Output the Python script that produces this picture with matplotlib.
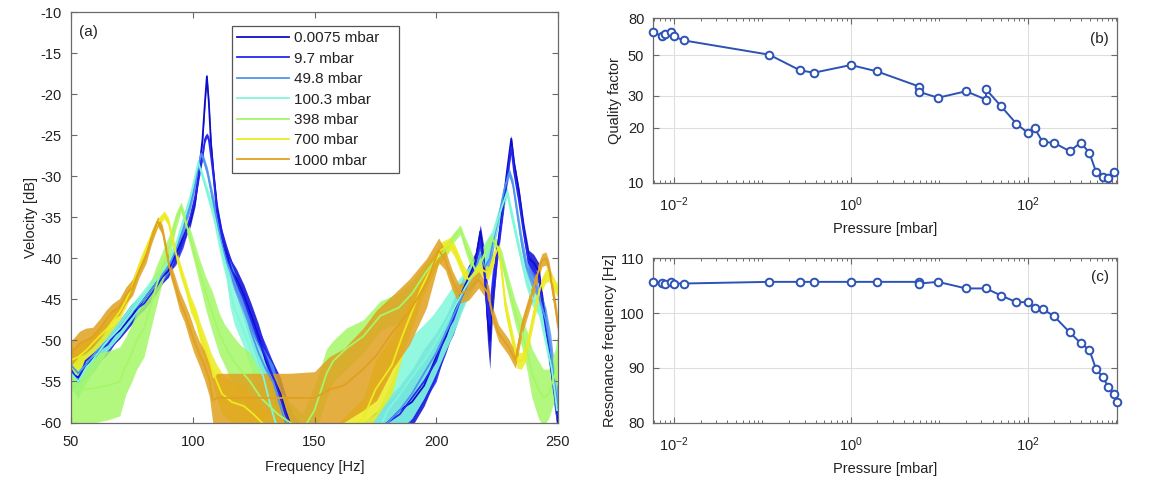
import numpy as np
import matplotlib
matplotlib.use("Agg")
import matplotlib.pyplot as plt
from matplotlib.ticker import FixedLocator, FixedFormatter, LogLocator, NullLocator, NullFormatter, LogFormatterMathtext

plt.rcParams['font.family'] = ['Liberation Sans', 'DejaVu Sans']
plt.rcParams['mathtext.fontset'] = 'custom'
plt.rcParams['mathtext.rm'] = 'Liberation Sans'
plt.rcParams['mathtext.default'] = 'regular'
plt.rcParams['axes.unicode_minus'] = False

# ---------------- panel (a): spectra ----------------
labels_a = ['0.0075 mbar', '9.7 mbar', '49.8 mbar', '100.3 mbar', '398 mbar', '700 mbar', '1000 mbar']
colors_a = ['#0d0dc9', '#2626ee', '#4f95ef', '#7ff7da', '#a6f768', '#ecec1e', '#e0a020']

freq_blue = [50, 53, 56, 60, 65, 70, 75, 80, 85, 90, 93, 96, 99, 101, 102.5, 104, 105, 105.8, 106.6, 107.5,
             108.5, 110, 112, 114, 116, 118, 121, 124, 127, 130, 133, 136, 138, 141, 150, 170, 180, 185, 190, 195,
             200, 204, 207, 210, 213, 216, 218.1, 219.5, 221, 222, 223, 225, 227, 229, 230.8, 232, 234, 236, 238, 240,
             242, 243.5, 245.5, 247, 248.5, 250]
vel_0075 = [-54, -54.5, -53, -52, -50, -48.8, -47, -45, -43, -41.5, -39.5, -37.5, -35.5, -33, -29.5, -25.5, -21, -17.8, -21, -26,
            -29.5, -34, -37.5, -39.5, -41.5, -42.5, -44.5, -47, -49.5, -52.5, -54.5, -56.5, -58.5, -61, -64, -63, -60, -58.5, -57.5, -55.5,
            -52, -49.5, -47, -44.5, -42.5, -40.5, -36.7, -40, -47, -50, -45, -39, -34.5, -29.5, -25.4, -28.5, -32, -36.5, -40, -40.5,
            -41.5, -45, -49, -53, -56, -60]
vel_97 = [-53.5, -55, -52.5, -51.5, -50.5, -48.5, -46.5, -45.5, -43.5, -41, -40, -38, -35, -32.5, -30, -27.5, -25.5, -25, -25.5, -27.5,
          -30, -34.5, -37.5, -40, -41.5, -43, -45, -47.5, -50, -52, -54.5, -57, -59, -61, -64, -62, -60, -59, -57, -55,
          -52.5, -49, -47.5, -45, -43, -41, -38, -41, -46, -48, -44, -39.5, -35, -30.5, -26.5, -29.5, -33, -37, -40.5, -41.5,
          -42, -45.5, -49.5, -53, -56.5, -59]
spread_blue = [2, 2, 1.8, 1.5, 1.2, 1, 1, 0.8, 0.8, 0.8, 0.8, 0.7, 0.6, 0.6, 0.5, 0.5, 0.4, 0.3, 0.4, 0.5,
               0.6, 0.8, 1, 1, 1.2, 1.2, 1.3, 1.5, 1.5, 1.5, 1.8, 2, 2, 2, 2, 2, 2.5, 2.5, 3, 2.5,
               2.5, 2, 1.8, 1.5, 1.5, 1.2, 0.8, 1.5, 3, 3.5, 2.5, 1.2, 0.8, 0.6, 0.4, 0.5, 0.6, 0.8, 1, 1,
               1, 1, 1.2, 1.5, 1.8, 2]

freq_498 = [50, 53, 56, 60, 65, 70, 75, 80, 85, 90, 93, 96, 99, 101, 102.5, 103.5, 104.5, 106, 108, 110,
            112, 114, 116, 118, 121, 124, 127, 130, 133, 135, 137, 140, 150, 170, 180, 185, 190, 195, 200, 204,
            207, 210, 213, 216, 218, 220, 222, 224, 226, 228, 230, 231.5, 233, 235, 237, 239.3, 241, 243, 245, 247,
            248.5, 250]
vel_498 = [-53, -54, -53, -51.5, -50, -48.5, -46.5, -45, -43, -41, -39, -36.5, -33.5, -31, -28.5, -27.2, -28, -29.5, -32.5, -35.5,
           -38.5, -40.5, -42, -43.5, -46, -49, -51.5, -53.5, -55, -57, -59, -61.5, -64, -63, -60, -58.5, -56.5, -54, -51.5, -49,
           -47, -45, -43, -41.5, -39.5, -41, -40, -37, -34.5, -31.5, -29.5, -31, -34, -38, -41, -42.6, -43.5, -45.5, -47.5, -51,
           -55, -58]
spread_498 = [2, 2, 1.8, 1.5, 1.2, 1, 1, 0.8, 0.8, 0.8, 0.8, 0.7, 0.6, 0.5, 0.5, 0.4, 0.5, 0.6, 0.8, 1,
              1, 1, 1.2, 1.2, 1.5, 1.5, 1.5, 2, 2, 2, 2, 2, 2, 2, 3, 3, 3, 3, 2.5, 2,
              2, 1.5, 1.5, 1.2, 1.2, 1.5, 1.5, 1, 0.8, 0.6, 0.5, 0.6, 0.8, 1, 1, 1, 1, 1.2, 1.5, 1.8,
              2, 2]

freq_1003 = [50, 53, 56, 60, 65, 70, 75, 80, 85, 90, 93, 96, 99, 101, 102.3, 103.5, 105, 107, 108.2, 110,
             112, 113.7, 115.3, 117, 120.8, 125, 129, 131.7, 134, 140, 160, 175, 180, 184, 190, 195, 198.3, 202, 206.5, 212,
             217.4, 220, 222.9, 225, 227, 229.1, 231.1, 233.8, 236.6, 239.3, 242, 244.8, 247.5, 249.6]
vel_1003 = [-54, -55, -53.5, -52, -50, -48.5, -46.5, -44.5, -42.5, -40.5, -38.5, -35.5, -32.5, -30, -28.3, -29.5, -31, -33, -34.1, -36.5,
            -39, -41, -43.9, -46, -48.7, -52, -54.4, -57.7, -60, -63, -64, -62, -58.5, -57, -54.5, -52.5, -51, -49, -46.5, -43.5,
            -41, -39.5, -37.8, -35.5, -33.7, -31.9, -34.9, -38.6, -42.2, -44.7, -45.9, -49.6, -53.6, -58.5]
spread_1003 = [2, 2, 1.8, 1.5, 1.2, 1, 1, 0.8, 0.8, 0.8, 0.7, 0.6, 0.6, 0.5, 0.4, 0.5, 0.6, 0.8, 1, 1.2,
               1.5, 1.5, 2, 2, 2, 2.5, 2.5, 2.5, 2.5, 2.5, 2.5, 3, 2.5, 4, 5, 4.5, 4, 3.5, 3, 2,
               1.5, 1.5, 1.2, 1, 0.8, 0.6, 0.8, 0.8, 1, 1, 1, 1.2, 1.5, 2]

freq_398 = [50, 55, 60, 65, 70, 72.6, 75, 77, 80, 82, 84.9, 87, 90.4, 93, 95.2, 97, 100, 102.7, 105.4, 108,
            110.9, 113, 116.4, 119.4, 123.5, 128, 135, 145, 150, 155, 157.7, 163, 170, 177, 184.6, 190, 195.5, 199.6, 202, 205.1,
            207, 209.9, 211.5, 213.3, 216, 218.8, 221, 222.9, 225, 227, 229.7, 232.5, 235.2, 237.5, 239.3, 242, 244, 246.2, 248.9, 250]
vel_398 = [-56, -56, -55.8, -55.5, -55, -53, -51.5, -50, -48.5, -46.5, -43.5, -41.5, -38.6, -35.5, -33.7, -35.5, -38.6, -41.5, -44.3, -46.5,
           -49.2, -50.5, -52.4, -53.5, -55, -57, -59, -61, -58.5, -54, -52.5, -51, -49.5, -47, -46, -44.3, -41.8, -40.2, -39.5, -38.5,
           -37.5, -36.5, -38, -39.4, -41.4, -40.2, -38.5, -37.6, -38.5, -40.2, -43.5, -46.7, -49.1, -51.5, -54, -56, -57, -56.5, -54, -51.5]
spread_398 = [4.2, 4.2, 4.2, 4.2, 4.2, 3.5, 3.5, 3.5, 3.5, 3, 2.5, 2, 1.5, 1, 0.6, 0.8, 1.2, 1.5, 2, 2.5,
              2.5, 2.5, 3, 3, 3.5, 3.5, 3, 2, 3, 3, 2.5, 2.5, 2, 1.8, 1.8, 1.5, 1.2, 1, 1, 0.8,
              0.6, 0.6, 0.8, 1, 1, 1, 0.8, 0.6, 0.8, 1, 1.2, 1.5, 1.8, 2.5, 3, 3.5, 3.5, 3, 3, 2.5]

freq_700 = [50, 53, 56.2, 60, 65, 70, 72.6, 75, 78, 81, 83.5, 86, 88.3, 90, 91.5, 93.1, 95, 97.2, 99, 101.3,
            103, 105.4, 107.5, 109.6, 112, 116, 121, 125, 135, 150, 160, 170, 175, 181.8, 186, 190, 194, 198.3, 202, 205.8,
            207.5, 209.2, 211, 213.3, 215, 217.4, 219.5, 221.5, 223.5, 225.6, 227, 228.4, 231.1, 233.2, 235, 236.6, 238.5, 240.7, 242.8, 244.8,
            246.5, 248.9, 250]
vel_700 = [-52.4, -52, -51.2, -50, -48.5, -46.5, -45.1, -43.5, -41, -38.8, -37, -35.5, -34.7, -35.5, -37.5, -39.4, -41.5, -43.5, -45.5, -47.1,
           -49, -51.2, -53, -54.8, -56.5, -57.5, -58, -59, -62, -63, -62, -59.5, -56, -53, -49.5, -46.5, -43.5, -41, -39, -38.2,
           -39, -40.2, -41.5, -42.6, -42, -41, -41.5, -41.8, -40, -38.6, -42, -45.9, -49.6, -52.4, -52.5, -51.6, -49, -45.9, -43.5, -42.2,
           -42, -43.5, -43.9]
spread_700 = [1.5, 1.5, 1.2, 1.2, 1, 1, 0.8, 0.8, 0.8, 0.7, 0.6, 0.5, 0.5, 0.5, 0.6, 0.7, 0.8, 0.8, 1, 1,
              1.2, 1.5, 1.5, 2, 2.5, 2.5, 2.5, 2, 2, 2, 2, 2.5, 3.5, 3.5, 2.5, 2, 1.5, 1.2, 1, 0.8,
              0.8, 0.8, 0.8, 0.8, 0.8, 0.8, 0.8, 0.8, 0.8, 0.8, 0.8, 1, 1, 1, 1, 1, 1, 1, 0.8, 0.8,
              0.8, 0.8, 0.8]

freq_1000 = [50, 53.4, 56, 58.9, 62, 64.4, 67, 69.9, 72.5, 75.3, 78, 80.8, 83, 85.6, 87.5, 90.4, 92.5, 94.5, 96.5, 98.6,
             100.5, 102.7, 104.8, 106.8, 108.2, 110, 120, 130, 140, 150, 156, 162, 170, 175.5, 182, 189, 196, 201, 203.7, 206.5,
             209.2, 213.3, 217.4, 219.5, 221.5, 222.9, 225.6, 229.7, 232.5, 235.2, 239.3, 241.5, 243.4, 245, 246.2, 248.9, 250]
vel_1000 = [-51.6, -50.4, -50, -49.6, -48.5, -47.5, -46.5, -45.9, -44.5, -43.5, -41.5, -39.8, -37.5, -35.5, -36.5, -41, -43, -45.1, -46.5, -48.3,
            -50, -51.6, -53, -54.8, -57.3, -57, -57, -57, -57, -57, -56, -55.5, -53.5, -51.8, -49, -46.5, -43, -39, -40.2, -42.6,
            -44.3, -43.9, -42.6, -43.5, -44.3, -46.7, -49.1, -50.8, -52.4, -48.3, -44.3, -42, -40.2, -40, -41, -45.9, -48.3]
spread_1000 = [1.5, 1.5, 1.5, 1.2, 1.2, 1.2, 1, 1, 1, 1, 0.8, 0.8, 0.8, 0.6, 0.6, 0.8, 1, 1.2, 1.2, 1.5,
               1.5, 1.5, 1.8, 2, 2.7, 3, 3, 3, 3, 3.2, 4, 4.5, 5, 5.5, 4.5, 4, 3, 1.5, 1.2, 1.2,
               1.2, 1.2, 1, 1, 1, 1, 1, 1, 1, 1, 1, 1, 0.8, 0.8, 0.8, 1, 1]

spectra = [
    (freq_blue, vel_0075, spread_blue),
    (freq_blue, vel_97, spread_blue),
    (freq_498, vel_498, spread_498),
    (freq_1003, vel_1003, spread_1003),
    (freq_398, vel_398, spread_398),
    (freq_700, vel_700, spread_700),
    (freq_1000, vel_1000, spread_1000),
]

# ---------------- panel (b): quality factor ----------------
pressure_b = [0.00584, 0.00726, 0.0079, 0.00925, 0.0099, 0.01285, 0.1194, 0.267, 0.382, 1.0,
              1.97, 5.97, 5.97, 9.7, 20.1, 33.8, 33.8, 50, 74.5, 100,
              120, 148, 197, 298, 398, 498, 592, 710, 809, 937]
quality_b = [67.0, 63.9, 65.9, 67.3, 63.7, 60.5, 50.5, 41.4, 40.2, 44.3,
             40.9, 33.7, 31.5, 29.3, 31.8, 28.6, 32.6, 26.3, 21.1, 18.8,
             19.9, 16.7, 16.6, 14.9, 16.6, 14.6, 11.5, 10.8, 10.65, 11.4]

# ---------------- panel (c): resonance frequency ----------------
pressure_c = [0.00584, 0.00726, 0.0079, 0.00925, 0.0099, 0.01285, 0.1194, 0.267, 0.382, 1.0,
              1.97, 5.97, 5.97, 9.7, 20.1, 33.8, 50, 74.5, 100, 120,
              148, 197, 298, 398, 498, 592, 710, 809, 937, 1031]
resfreq_c = [105.7, 105.55, 105.4, 105.6, 105.4, 105.4, 105.7, 105.7, 105.7, 105.7,
             105.7, 105.7, 105.4, 105.7, 104.5, 104.5, 103.2, 102.0, 102.0, 101.0,
             100.7, 99.5, 96.5, 94.5, 93.3, 89.8, 88.3, 86.6, 85.2, 83.7]

# ---------------- figure ----------------
W, H = 1150, 478
fig = plt.figure(figsize=(W / 100, H / 100), dpi=100)

def px_axes(l, t, r, b):
    return fig.add_axes([l / W, 1 - b / H, (r - l) / W, (b - t) / H])

spine_col = '#6a6a6a'
text_col = '#222222'
fs = 10.5

def style(ax, xpad=9, ypad=6.5):
    for sp in ax.spines.values():
        sp.set_color(spine_col)
        sp.set_linewidth(0.9)
    ax.tick_params(which='both', direction='in', top=True, right=True,
                   colors=spine_col, labelcolor=text_col, labelsize=fs)
    ax.tick_params(which='major', length=4.5, width=0.8)
    ax.tick_params(which='minor', length=2.5, width=0.7)
    ax.tick_params(axis='x', which='both', pad=xpad)
    ax.tick_params(axis='y', which='both', pad=ypad)

ax_a = px_axes(71, 12.3, 558, 422.5)
ax_b = px_axes(653.3, 18.3, 1117.3, 182.7)
ax_c = px_axes(653.3, 258.3, 1117.3, 422.7)

for (f, v, s), col, lab in zip(spectra, colors_a, labels_a):
    f = np.asarray(f, float); v = np.asarray(v, float); s = np.asarray(s, float)
    ax_a.fill_between(f, v - s, v + s, color=col, lw=0, alpha=0.85)
    ax_a.plot(f, v, color=col, lw=1.3, label=lab)

ax_a.set_xlim(50, 250)
ax_a.set_ylim(-60, -10)
ax_a.set_xticks([50, 100, 150, 200, 250])
ax_a.set_yticks(np.arange(-60, -9, 5))
style(ax_a)
ax_a.set_xlabel('Frequency [Hz]', fontsize=fs, color=text_col, labelpad=8)
ax_a.set_ylabel('Velocity [dB]', fontsize=fs, color=text_col, labelpad=2)
ax_a.text(0.016, 0.952, '(a)', transform=ax_a.transAxes, fontsize=11, color=text_col, va='center', ha='left')
bx0 = (232 - 71) / 487
by1 = (422.5 - 26) / 410.2
bw = (399 - 232) / 487
bh = (173 - 26) / 410.2
leg = ax_a.legend(loc='upper left', bbox_to_anchor=(bx0, by1 - bh, bw, bh), mode='expand',
                  borderaxespad=0, fontsize=11, frameon=True, fancybox=False, framealpha=1,
                  edgecolor='#555555', handlelength=3.4, handletextpad=0.3, labelspacing=0.42,
                  borderpad=0.35)
leg.get_frame().set_linewidth(0.9)
for t in leg.get_texts():
    t.set_color(text_col)

line_col = '#2c52b5'
for ax, p, y in [(ax_b, pressure_b, quality_b), (ax_c, pressure_c, resfreq_c)]:
    ax.plot(p, y, '-o', color=line_col, lw=1.4, ms=5.5, mfc='white', mec=line_col, mew=1.4, clip_on=False, zorder=3)
    ax.set_xscale('log')
    ax.set_xlim(0.00584, 1031)
    ax.xaxis.set_major_locator(FixedLocator([1e-2, 1e0, 1e2]))
    ax.xaxis.set_major_formatter(LogFormatterMathtext())
    ax.xaxis.set_minor_locator(LogLocator(base=10, subs=np.arange(1, 10), numticks=20))
    ax.xaxis.set_minor_formatter(NullFormatter())
    ax.grid(True, which='major', color='#dedede', lw=0.8)
    ax.set_axisbelow(True)
    style(ax, xpad=9, ypad=6.5)
    ax.set_xlabel('Pressure [mbar]', fontsize=fs, color=text_col, labelpad=6)

ax_b.set_yscale('log')
ax_b.set_ylim(10, 80)
ax_b.yaxis.set_major_locator(FixedLocator([10, 20, 30, 50, 80]))
ax_b.yaxis.set_major_formatter(FixedFormatter(['10', '20', '30', '50', '80']))
ax_b.yaxis.set_minor_locator(NullLocator())
ax_b.set_ylabel('Quality factor', fontsize=fs, color=text_col, labelpad=4)
ax_b.text(0.982, 0.872, '(b)', transform=ax_b.transAxes, fontsize=11, color=text_col, va='center', ha='right')

ax_c.set_ylim(80, 110)
ax_c.set_yticks([80, 90, 100, 110])
ax_c.set_ylabel('Resonance frequency [Hz]', fontsize=fs, color=text_col, labelpad=2)
ax_c.text(0.982, 0.888, '(c)', transform=ax_c.transAxes, fontsize=11, color=text_col, va='center', ha='right')

fig.savefig('out.png', dpi=100)
